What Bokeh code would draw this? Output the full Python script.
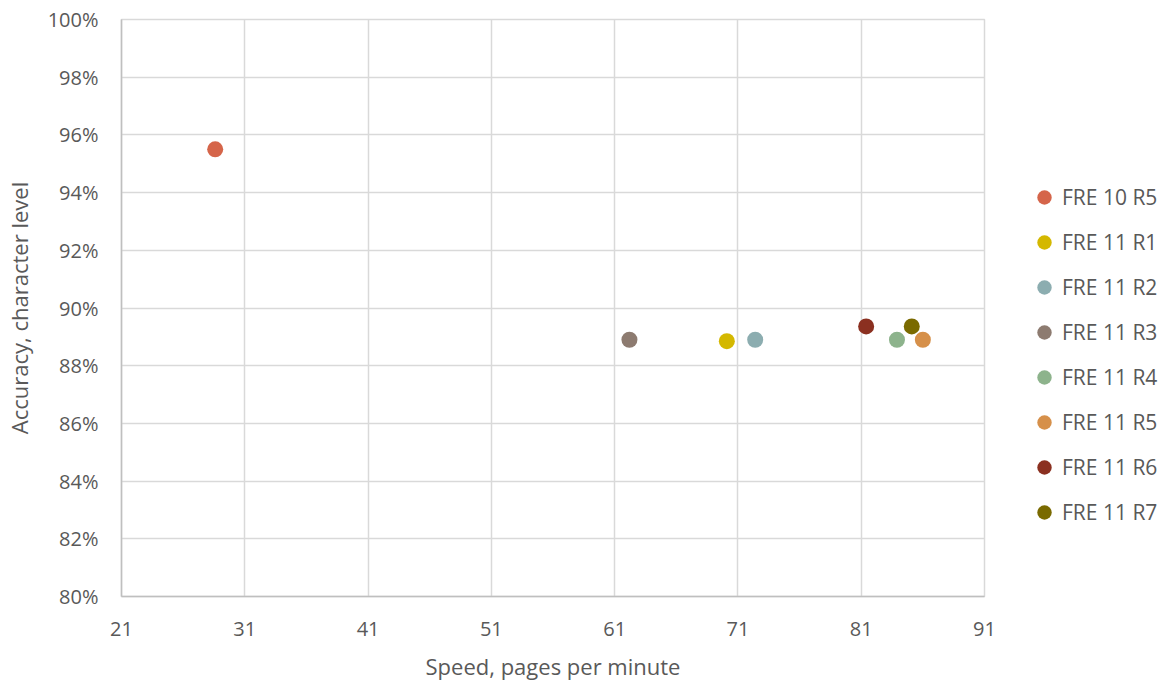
from bokeh.plotting import figure
from bokeh.models import ColumnDataSource, Legend, LegendItem, NumeralTickFormatter, FixedTicker, Range1d
from bokeh.embed import file_html
from bokeh.resources import INLINE

series = ["FRE 10 R5", "FRE 11 R1", "FRE 11 R2", "FRE 11 R3", "FRE 11 R4", "FRE 11 R5", "FRE 11 R6", "FRE 11 R7"]
speed = [28.6, 70.1, 72.4, 62.2, 83.9, 86.0, 81.4, 85.1]
accuracy = [0.955, 0.8885, 0.889, 0.889, 0.889, 0.889, 0.8936, 0.8936]
colors = ["#D5654A", "#D4B800", "#8CADB0", "#8D7B70", "#8DB38C", "#D6904A", "#8B3020", "#7A6A00"]
x_ticks = [21, 31, 41, 51, 61, 71, 81, 91]
y_ticks = [0.80, 0.82, 0.84, 0.86, 0.88, 0.90, 0.92, 0.94, 0.96, 0.98, 1.00]

FONT = "Open Sans"
p = figure(frame_width=863, frame_height=577, min_border_left=60, min_border_top=19,
           min_border_bottom=72, min_border_right=10,
           output_backend="svg", toolbar_location=None,
           x_range=Range1d(21, 91), y_range=Range1d(0.80, 1.00))

items = []
for name, xv, yv, c in zip(series, speed, accuracy, colors):
    src = ColumnDataSource(dict(x=[xv], y=[yv]))
    r = p.scatter("x", "y", source=src, size=16, fill_color=c, line_color=c, line_width=0)
    items.append(LegendItem(label=name, renderers=[r]))

p.xaxis.ticker = FixedTicker(ticks=x_ticks)
p.yaxis.ticker = FixedTicker(ticks=y_ticks)
p.yaxis.formatter = NumeralTickFormatter(format="0%")

for ax in (p.xaxis, p.yaxis):
    ax.major_tick_line_color = None
    ax.minor_tick_line_color = None
    ax.axis_line_color = "#BFBFBF"
    ax.axis_line_width = 1.5
    ax.major_label_text_font = FONT
    ax.major_label_text_font_size = "20px"
    ax.major_label_text_color = "#595959"
    ax.axis_label_text_font = FONT
    ax.axis_label_text_font_size = "22px"
    ax.axis_label_text_font_style = "normal"
    ax.axis_label_text_color = "#595959"

p.xaxis.axis_label = "Speed, pages per minute"
p.yaxis.axis_label = "Accuracy, character level"
p.xaxis.major_label_standoff = 19
p.yaxis.major_label_standoff = 17
p.xaxis.axis_label_standoff = 12
p.yaxis.axis_label_standoff = 11

p.xgrid.ticker = FixedTicker(ticks=x_ticks)
p.ygrid.ticker = FixedTicker(ticks=y_ticks)
p.xgrid.grid_line_color = "#D9D9D9"
p.ygrid.grid_line_color = "#D9D9D9"
p.xgrid.grid_line_width = 1.5
p.ygrid.grid_line_width = 1.5
p.outline_line_color = "#D9D9D9"
p.outline_line_width = 1.5

legend = Legend(items=items, location=(42, 65), orientation="vertical")
legend.border_line_color = None
legend.background_fill_alpha = 0
legend.padding = 0
legend.margin = 0
legend.spacing = 7
legend.glyph_width = 36
legend.glyph_height = 38
legend.label_height = 20
legend.label_standoff = 0
legend.label_text_font = FONT
legend.label_text_font_size = "21px"
legend.label_text_color = "#595959"
p.add_layout(legend, "right")

open("out.html", "w").write(file_html(p, INLINE))
